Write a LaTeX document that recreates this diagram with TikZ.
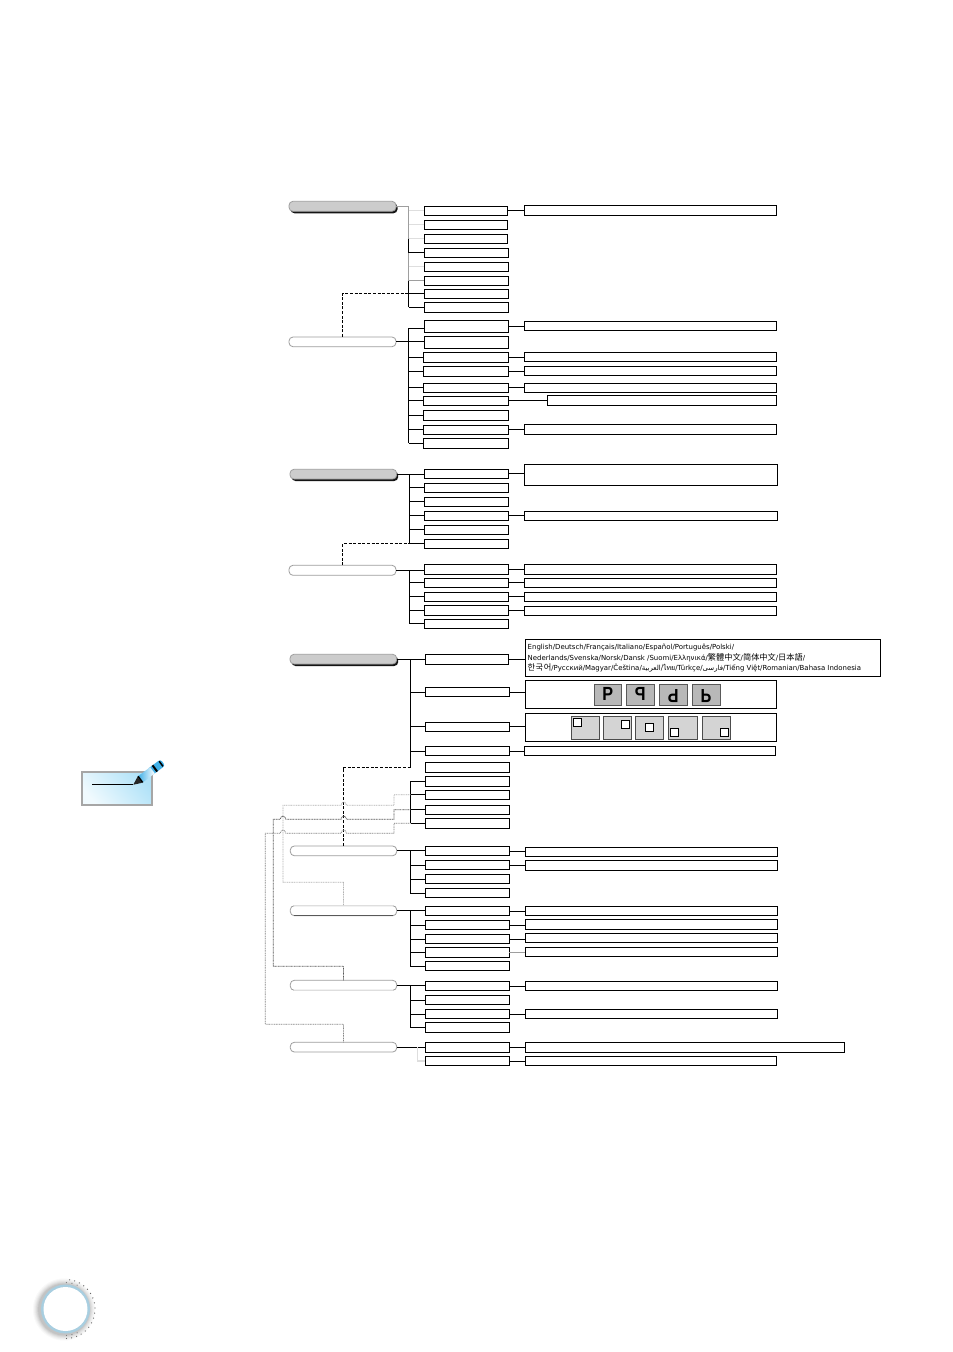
\documentclass[tikz,border=0pt]{standalone}
\usepackage{fontspec}
\setmainfont{DejaVu Sans}
\newfontfamily\cjkf{Noto Sans CJK SC}
\newfontfamily\krf{Noto Sans CJK KR}
\newfontfamily\thaif[Script=Thai]{Loma}
\newfontfamily\arabf[Script=Arabic]{DejaVu Sans}
\newfontfamily\iconf{Liberation Sans}
\TeXXeTstate=1
\usetikzlibrary{shadows,calc}
\definecolor{lg}{gray}{0.87}
\definecolor{mg}{gray}{0.62}
\definecolor{pg}{gray}{0.8}
\definecolor{iconfill}{gray}{0.72}
\definecolor{posfill}{gray}{0.83}
\tikzset{
  bxs/.style={draw=black,fill=white,line width=0.9pt,inner sep=0pt,outer sep=0pt},
  pillw/.style={draw=mg,fill=white,line width=0.8pt,rounded corners=4pt,inner sep=0pt,outer sep=0pt},
  pillg/.style={draw=mg,fill=pg,line width=0.8pt,rounded corners=4pt,inner sep=0pt,outer sep=0pt,
    drop shadow={shadow xshift=1.5pt,shadow yshift=-2pt,fill=black!92,opacity=1}},
  conn/.style={draw=black,line width=0.9pt},
  pale/.style={draw=lg,line width=1.2pt},
  midc/.style={draw=mg,line width=0.9pt},
  dash1/.style={draw=black,line width=0.9pt,dash pattern=on 3pt off 1.6pt},
  dot1/.style={draw=black!30,line width=0.8pt,dash pattern=on 1pt off 0.7pt},
  dot2/.style={draw=black!65,line width=0.7pt,dash pattern=on 1pt off 0.6pt},
  dot3/.style={draw=black!48,line width=0.7pt,dash pattern=on 1pt off 0.7pt},
  posbox/.style={draw=black!70,fill=posfill,line width=0.6pt,inner sep=0pt,outer sep=0pt},
  possq/.style={draw=black,fill=white,line width=0.7pt,inner sep=0pt,outer sep=0pt},
  ico/.style={draw=black!65,fill=iconfill,line width=1pt,inner sep=0pt,outer sep=0pt},
  icotxt/.style={inner sep=0pt,font=\iconf\bfseries\fontsize{19}{19}\selectfont},
  lang/.style={anchor=west,inner sep=0pt,font=\fontsize{6.95}{8}\selectfont}
}
\newcommand{\cjkt}[1]{{\cjkf\fontsize{8.2}{8}\selectfont #1}}
\newcommand{\krt}[1]{{\krf\fontsize{8.2}{8}\selectfont\addfontfeatures{LetterSpace=6} #1}}
\newcommand{\placebox}[6]{%
  \pgfmathsetmacro\myw{#5-#3}\pgfmathsetmacro\myh{#6-#4}%
  \pgfmathsetmacro\myx{(#3+#5)/2}\pgfmathsetmacro\myy{(#4+#6)/2}%
  \node[#1,minimum width=\myw pt,minimum height=\myh pt] (#2) at (\myx,\myy) {};}
\newcommand{\bxn}[5]{\placebox{bxs}{#1}{#2}{#3}{#4}{#5}}
\newcommand{\brn}[2]{\draw[conn] (#1 |- #2.west) -- (#2.west);}
\newcommand{\lnk}[2]{\draw[conn] (#1.east) -- (#1.east -| #2.west);}
\begin{document}
\begin{tikzpicture}[x=1pt,y=-1pt]
\useasboundingbox (0,0) rectangle (953,1352);
\fill[white] (0,0) rectangle (953,1352);

% ---------- section 1
\placebox{pillg}{pa}{289}{201.3}{396}{211.3}
\foreach \n/\a/\b/\c/\d in {a1/424.3/206/507.7/215.3,a2/424.3/220.3/507.7/229.3,a3/424.3/234.3/507.7/243.3,a4/424.3/248.3/508.7/257.3,a5/424.3/262.3/508.7/271.3,a6/424.3/276.3/508.7/285.3,a7/424.3/289.3/508.7/298.3,a8/424.3/302.3/508.7/312.3}
  {\bxn{\n}{\a}{\b}{\c}{\d}}
\bxn{ar1}{524.3}{205.3}{776}{215.3}
\coordinate (ta) at (408.5,206.3);
\draw[midc] (ta -| pa.east) -- (ta) -- (ta |- a3.west);
\draw[conn] (ta |- a3.west) -- (ta |- a4.west);
\draw[midc] (ta |- a4.west) -- (ta |- a6.west);
\draw[conn] (ta |- a6.west) -- (ta |- a8.west);
\foreach \n in {a1,a2,a3,a5} {\draw[pale] (ta |- \n.west) -- (\n.west);}
\draw[midc] (ta |- a6.west) -- (a6.west);
\brn{ta}{a4}\brn{ta}{a7}\brn{ta}{a8}
\lnk{a1}{ar1}

% ---------- section 2
\placebox{pillw}{pb}{289}{337}{396}{346.7}
\foreach \n/\a/\b/\c/\d in {b1/424.3/320.3/508.7/332.3,b2/424.3/336.3/508.7/348.3,b3/423.3/352.3/508.7/362.3,b4/423.3/366.3/508.7/376.3,b5/423.3/383.3/508.7/392.3,b6/423.3/396.3/508.7/405.3,b7/423.3/410.3/508.7/420.3,b8/423.3/425.3/508.7/434.3,b9/423.3/438.3/508.7/448.3}
  {\bxn{\n}{\a}{\b}{\c}{\d}}
\foreach \n/\a/\b/\c/\d in {br1/524.3/321.3/776/330.3,br3/524.3/352.3/776/361.3,br4/524.3/366.3/776/375.3,br5/524.3/383.3/776/392.3,br6/547.3/395.3/776/405.3,br8/524.3/424.3/776/434.3}
  {\bxn{\n}{\a}{\b}{\c}{\d}}
\coordinate (tb) at (408.5,328);
\draw[conn] (tb) -- (tb |- b9.west);
\draw[conn] (tb) -- (tb -| b1.west);
\lnk{pb}{b2}
\foreach \n in {b3,b4,b5,b6,b7,b8,b9} {\brn{tb}{\n}}
\lnk{b1}{br1}\lnk{b3}{br3}\lnk{b4}{br4}\lnk{b5}{br5}\lnk{b6}{br6}\lnk{b8}{br8}
\draw[dash1] (pb.north) |- (a7.west -| ta);

% ---------- section 3
\placebox{pillg}{pc}{290}{469.3}{396.7}{479}
\foreach \n/\a/\b/\c/\d in {c1/424.3/469.3/508.7/478.3,c2/424.3/483.3/508.7/492.3,c3/424.3/497.3/508.7/506.3,c4/424.3/511.3/508.7/520.3,c5/424.3/525.3/508.7/534.3,c6/424.3/539.3/508.7/548.3}
  {\bxn{\n}{\a}{\b}{\c}{\d}}
\bxn{cr1}{524.3}{464.3}{777.5}{485.3}
\bxn{cr4}{524.3}{511.3}{777}{520.3}
\coordinate (tc) at (409.3,474.15);
\lnk{pc}{c1}
\draw[conn] (tc) -- (tc |- c6.west);
\foreach \n in {c2,c3,c4,c5,c6} {\brn{tc}{\n}}
\lnk{c1}{cr1}\lnk{c4}{cr4}

% ---------- section 4
\placebox{pillw}{pd}{289}{565.3}{396}{575.3}
\foreach \n/\a/\b/\c/\d in {d1/424.3/564.3/508.7/574.3,d2/424.3/578.3/508.7/587.3,d3/424.3/592.3/508.7/601.3,d4/424.3/605.3/508.7/615.3,d5/424.3/619.3/508.7/628.3}
  {\bxn{\n}{\a}{\b}{\c}{\d}}
\foreach \n/\a/\b/\c/\d in {dr1/524.3/564.3/776/574.3,dr2/524.3/578.3/776/587.3,dr3/524.3/592.3/776/601.3,dr4/524.3/606.3/776/615.3}
  {\bxn{\n}{\a}{\b}{\c}{\d}}
\coordinate (td) at (409.3,570.3);
\lnk{pd}{d1}
\draw[conn] (td) -- (td |- d5.west);
\foreach \n in {d2,d3,d4,d5} {\brn{td}{\n}}
\lnk{d1}{dr1}\lnk{d2}{dr2}\lnk{d3}{dr3}\lnk{d4}{dr4}
\draw[dash1] (pd.north) |- (c6.west -| tc);

% ---------- section 5
\placebox{pillg}{pe}{290}{654.3}{396.7}{664}
\foreach \n/\a/\b/\c/\d in {e1/425.3/654.3/508.7/664.3,e2/425.3/687.3/509.3/696.7,e3/425.3/722/509.3/731.7,e4/425.3/746.3/509.3/755.7,e5/425.3/762.7/509.3/772.3,e6/425.3/776.3/509.3/786.3,e7/425.3/790.3/509.3/799.3,e8/425.3/805.3/509.3/814.3,e9/425.3/818.3/509.3/828.3}
  {\bxn{\n}{\a}{\b}{\c}{\d}}
\bxn{er1}{525.7}{639.3}{880.3}{676.3}
\bxn{er2}{525.7}{680.7}{776.7}{708.3}
\bxn{er3}{525.7}{713.3}{776.7}{741}
\bxn{er4}{524.7}{746.3}{775.7}{755.3}
\coordinate (te) at (410.5,659.15);
\coordinate (tf) at (410.5,781.3);
\lnk{pe}{e1}
\draw[conn] (te) -- (te |- e5.west);
\draw[conn] (tf) -- (tf |- e9.west);
\foreach \n in {e2,e3,e4} {\brn{te}{\n}}
\foreach \n in {e6,e7,e8,e9} {\brn{tf}{\n}}
\lnk{e1}{er1}\lnk{e2}{er2}\lnk{e3}{er3}\lnk{e4}{er4}

% language list
\node[lang] (l1) at (527.5,647.5) {English/Deutsch/Français/Italiano/Español/Português/Polski/};
\node[lang] (l2) at (527.5,657.5) {Nederlands/Svenska/Norsk/Dansk /Suomi/Ελληνικά/\cjkt{繁體中文}/\cjkt{简体中文}/\cjkt{日本語}/};
\node[lang] (l3) at (527.5,667.7) {\krt{한국어}/Русский/Magyar/Čeština/{\arabf\beginR العربية\endR}/{\thaif ไทย}/Türkçe/{\arabf\beginR فارسی\endR}/Tiếng Việt/Romanian/Bahasa Indonesia};

% projection icons
\placebox{ico}{i1}{594.3}{684}{621.3}{705.3}
\placebox{ico}{i2}{626.3}{684}{654}{705.3}
\placebox{ico}{i3}{659.3}{684}{687.3}{705.3}
\placebox{ico}{i4}{692}{684}{720}{705.3}
\node[icotxt] (li1) at ([yshift=0.5pt]i1.center) {\scalebox{0.85}[1]{P}};
\node[icotxt] (li2) at ([yshift=0.5pt]i2.center) {\scalebox{-0.85}[1]{P}};
\node[icotxt] (li3) at ([yshift=-1.5pt]i3.center) {\rotatebox{180}{\scalebox{0.85}[1]{P}}};
\node[icotxt] (li4) at ([yshift=-1.5pt]i4.center) {\scalebox{0.85}[-1]{P}};

% position icons
\placebox{posbox}{q1}{571.3}{716}{599.3}{739.3}
\placebox{posbox}{q2}{603.7}{716}{631}{739.3}
\placebox{posbox}{q3}{635.3}{716}{663.7}{739.3}
\placebox{posbox}{q4}{668.3}{716}{697}{739.3}
\placebox{posbox}{q5}{702.3}{716}{730.7}{739.3}
\placebox{possq}{s1}{573.3}{718.3}{581.7}{726.7}
\placebox{possq}{s2}{621.3}{720}{629.3}{728.3}
\placebox{possq}{s3}{645.7}{723.7}{653.7}{731.7}
\placebox{possq}{s4}{670.3}{728.3}{678.7}{736.7}
\placebox{possq}{s5}{720.3}{728.3}{728.3}{736.7}

% ---------- section 6
\placebox{pillw}{pf}{290.3}{846}{396.7}{855.7}
\foreach \n/\a/\b/\c/\d in {f1/425.3/846.3/509.3/855.7,f2/425.3/860.3/509.3/869.7,f3/425.3/874.3/509.3/883.7,f4/425.3/888.3/509.3/897.7}
  {\bxn{\n}{\a}{\b}{\c}{\d}}
\bxn{fr1}{525.3}{847.3}{777}{856.7}
\bxn{fr2}{525.3}{860.3}{777}{870.3}
\coordinate (tg) at (410.3,850.85);
\lnk{pf}{f1}
\draw[conn] (tg) -- (tg |- f4.west);
\foreach \n in {f2,f3,f4} {\brn{tg}{\n}}
\lnk{f1}{fr1}\lnk{f2}{fr2}

% ---------- section 7
\placebox{pillw}{pg1}{290.3}{905.7}{396.7}{915.7}
\foreach \n/\a/\b/\c/\d in {g1/425.3/906.3/509.3/915.7,g2/425.3/920.3/509.3/929.7,g3/425.3/934.3/509.3/943.7,g4/425.3/947.3/509.3/957.3,g5/425.3/961.3/509.3/970.7}
  {\bxn{\n}{\a}{\b}{\c}{\d}}
\foreach \n/\a/\b/\c/\d in {gr1/525.3/906.3/777/915.7,gr2/525.3/919.3/777/929.3,gr3/525.3/933.3/777/942.3,gr4/525.3/947.3/777/956.7}
  {\bxn{\n}{\a}{\b}{\c}{\d}}
\coordinate (th) at (410.3,910.7);
\lnk{pg1}{g1}
\draw[conn] (th) -- (th |- g5.west);
\foreach \n in {g2,g3,g4,g5} {\brn{th}{\n}}
\lnk{g1}{gr1}\lnk{g2}{gr2}\lnk{g3}{gr3}
\draw[midc] (g4.east) -- (g4.east -| gr4.west);
\draw[lg,line width=1.1pt] ([xshift=4pt]pg1.north west) -- ([xshift=-4pt]pg1.north east);
\draw[black!65,line width=0.8pt] ([xshift=4pt]pg1.south west) -- ([xshift=-4pt]pg1.south east);

% ---------- section 8
\placebox{pillw}{ph}{290.3}{980.3}{396.7}{990.3}
\foreach \n/\a/\b/\c/\d in {h1/425.3/981.3/509.3/990.7,h2/425.3/995.3/509.3/1004.7,h3/425.3/1009.3/509.3/1018.7,h4/425.3/1022.3/509.3/1032.3}
  {\bxn{\n}{\a}{\b}{\c}{\d}}
\bxn{hr1}{525.3}{981.3}{777}{990.7}
\bxn{hr3}{525.3}{1009.3}{777}{1018.7}
\coordinate (ti) at (410.3,985.3);
\lnk{ph}{h1}
\draw[conn] (ti) -- (ti |- h4.west);
\foreach \n in {h2,h3,h4} {\brn{ti}{\n}}
\lnk{h1}{hr1}\lnk{h3}{hr3}
\draw[lg,line width=1.1pt] ([xshift=4pt]ph.south west) -- ([xshift=-4pt]ph.south east);

% ---------- section 9
\placebox{pillw}{pi1}{290.3}{1042.3}{396.7}{1052}
\bxn{j1}{425.3}{1042.3}{509.3}{1052}
\bxn{j2}{425.3}{1056.3}{509.3}{1065.7}
\bxn{jr1}{525.3}{1042.3}{844.7}{1052.3}
\bxn{jr2}{525.3}{1056.3}{776.5}{1065.7}
\coordinate (tj) at (417.7,1047.15);
\lnk{pi1}{j1}
\draw[pale] (tj) |- (j2.west);
\lnk{j1}{jr1}\lnk{j2}{jr2}

% dashed link
\draw[dash1] (pf.north) |- (e5.west -| te);

% dotted links
\coordinate (cb) at (394,805.3);\coordinate (cc) at (283,882.3);
\draw[dot1] (e7.west -| tf) -- (e7.west -| cb) -- (cb)
  -- (346.5,805.3) .. controls (346,801) and (341.5,801) .. (341,805.3)
  -- (283,805.3) -- (cc) -| (pg1.north);
\coordinate (eb) at (394,819.3);\coordinate (ec) at (273.3,966.3);
\draw[dot2] (e8.west -| tf) -- (e8.west -| eb) -- (eb)
  -- (346.5,819.3) .. controls (346,815) and (341.5,815) .. (341,819.3)
  -- (285.8,819.3) .. controls (285.3,815) and (280.7,815) .. (280.2,819.3)
  -- (273.3,819.3) -- (ec) -| (ph.north);
\coordinate (fb) at (394,833.3);\coordinate (fc) at (265.3,1024.3);
\draw[dot3] (e9.west -| tf) -- (e9.west -| fb) -- (fb)
  -- (346.5,833.3) .. controls (346,829) and (341.5,829) .. (341,833.3)
  -- (285.8,833.3) .. controls (285.3,829) and (280.7,829) .. (280.2,833.3)
  -- (265.3,833.3) -- (fc) -| (pi1.north);

% ---------- note icon
\definecolor{noteb}{RGB}{176,226,248}
\definecolor{notew}{RGB}{240,250,254}
\definecolor{penb}{RGB}{64,176,232}
\shade[bottom color=notew,top color=noteb,shading angle=-50] (82.3,772.3) rectangle (151.7,805);
\draw[draw=black!35,line width=1.8pt] (82.3,772.3) rectangle (151.7,805);
\coordinate (pn) at (133.3,784.7);
\draw[black,line width=0.9pt] (92,784.7) -- (pn);
\begin{scope}[shift={(pn)},rotate=37]
  \fill[penb,rounded corners=2.5pt] (20,-3.9) rectangle (37,3.9);
  \shade[left color=penb,right color=white] (9,-3.9) rectangle (24,3.9);
  \fill[black!85] (0,0) -- (8,-3.7) -- (8,3.7) -- cycle;
  \fill[black] (8,-3.9) rectangle (9.6,3.9);
  \fill[black] (26,-3.9) rectangle (28,3.9);
  \fill[black] (34,-3.2) rectangle (35.5,3.2);
\end{scope}

% ---------- page circle
\definecolor{ringc}{RGB}{168,206,224}
\coordinate (pc0) at (65.5,1309);
\foreach \r/\o in {31/0.04,30/0.05,29/0.06,28/0.08,27/0.1,26/0.12}
  {\fill[black!60,opacity=\o] ([xshift=-1.5pt,yshift=-0.5pt]pc0) circle (\r pt);}
\fill[ringc] (pc0) circle (24.5pt);
\fill[white] (pc0) circle (22pt);
\foreach \ang in {-88,-78,...,88}
  {\fill[black!60] ($(pc0)+(\ang:29.5pt)$) circle (0.65pt);}
\foreach \ang in {-88,-76,-64,64,76,88}
  {\fill[black!50] ($(pc0)+(\ang:26.5pt)$) circle (0.65pt);}
\end{tikzpicture}
\end{document}
